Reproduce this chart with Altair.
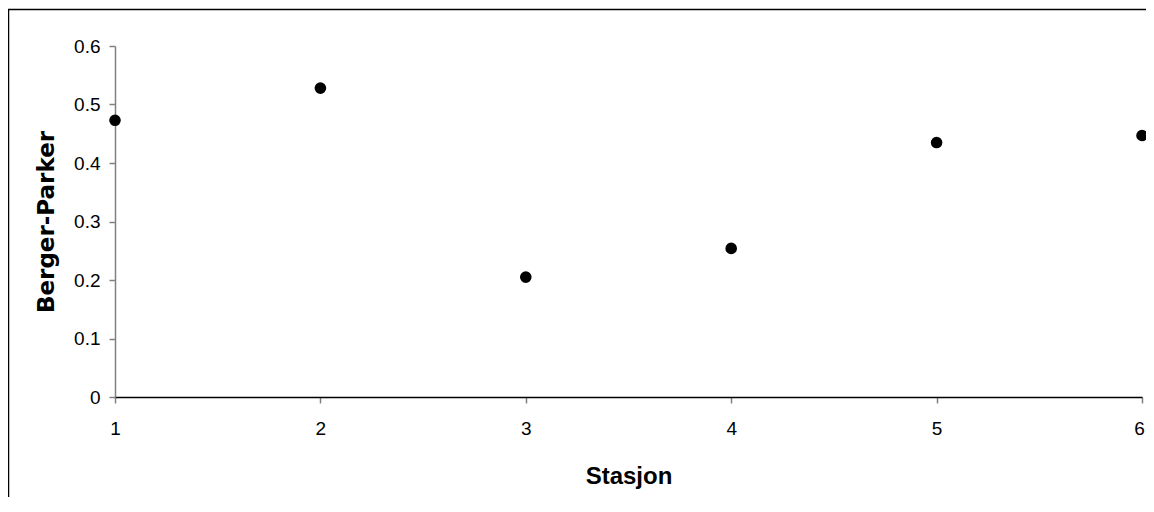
import altair as alt
import pandas as pd

stations = [1, 2, 3, 4, 5, 6]
berger_parker = [0.473, 0.528, 0.205, 0.254, 0.435, 0.447]
x_ticks = [1, 2, 3, 4, 5, 6]
y_ticks = [0, 0.1, 0.2, 0.3, 0.4, 0.5, 0.6]

df = pd.DataFrame({"Stasjon": stations, "Berger-Parker": berger_parker})

W, H = 1027, 351
FONT = "Liberation Sans"

points = alt.Chart(df).mark_point(
    filled=True, color="black", size=135, opacity=1, clip=False
).encode(
    x=alt.X(
        "Stasjon:Q",
        scale=alt.Scale(domain=[1, 6], nice=False, zero=False),
        axis=alt.Axis(
            values=x_ticks, format="d", grid=False, labelFlush=False,
            labelOffset={"condition": {"test": "datum.value == 6", "value": -3}, "value": 0},
            domainColor="black", domainWidth=1.5,
            tickColor="#808080", tickWidth=1.5, tickSize=6,
            labelPadding=16, labelFontSize=19, labelFont=FONT, labelColor="black",
            title="Stasjon", titleFont=FONT, titleFontSize=24, titleFontWeight="bold",
            titleColor="black", titleBaseline="alphabetic", titleY=86,
        ),
    ),
    y=alt.Y(
        "Berger-Parker:Q",
        scale=alt.Scale(domain=[0, 0.6], nice=False, zero=True),
        axis=alt.Axis(
            values=y_ticks, format=".1~f", grid=False,
            domainColor="#808080", domainWidth=1.5,
            tickColor="#808080", tickWidth=1.5, tickSize=6,
            labelPadding=9, labelFontSize=19, labelFont=FONT, labelColor="black",
            title="Berger-Parker", titleFont="DejaVu Sans", titleFontSize=23,
            titleFontWeight="bold",
            titleColor="black", titleAngle=-90, titleBaseline="alphabetic",
            titleX=-62, titleY=H / 2, titleAlign="center",
        ),
    ),
)

border = alt.Chart(pd.DataFrame({"a": [0]})).mark_rect(
    filled=False, stroke="black", strokeWidth=1.5, clip=False
).encode(
    x=alt.value(-106.5), x2=alt.value(W + 40),
    y=alt.value(-36.5), y2=alt.value(H + 200),
)

chart = alt.layer(border, points).properties(
    width=W, height=H,
    autosize="none",
    padding={"left": 107, "top": 38, "right": 4, "bottom": 100},
).configure_view(stroke=None)

chart.save("out.html", embed_options={"renderer": "svg", "actions": False})
